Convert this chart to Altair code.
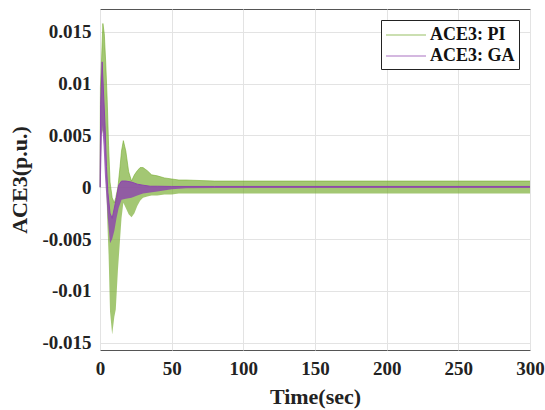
import altair as alt
import pandas as pd

# ---- data (envelopes of the oscillating responses) ----
pi_t = [0, 0.3, 1, 2, 3, 4, 5, 6, 7, 8.5, 10, 11, 12.5, 14, 15, 16.3, 18, 20, 22, 24,
        26, 28, 30, 33, 36, 40, 45, 50, 55, 60, 80, 100, 150, 200, 250, 300]
pi_upper = [0, 0.0097, 0.012, 0.0158, 0.0148, 0.012, 0.0085, 0.004, 0.0005, -0.001,
            -0.0015, -0.001, 0.0, 0.002, 0.0035, 0.0045, 0.0035, 0.0015, 0.0006, 0.0012,
            0.0016, 0.0019, 0.0019, 0.0016, 0.0012, 0.0011, 0.0009, 0.0008, 0.0007,
            0.0007, 0.0006, 0.0006, 0.0006, 0.0006, 0.0006, 0.0006]
pi_lower = [0, 0.0, 0.005, 0.0055, 0.005, 0.003, -0.003, -0.0065, -0.012, -0.0142,
            -0.0125, -0.0118, -0.008, -0.005, -0.003, -0.0015, -0.002, -0.0026, -0.0029,
            -0.0025, -0.0018, -0.0013, -0.001, -0.0009, -0.0008, -0.0008, -0.0007,
            -0.0007, -0.0006, -0.0006, -0.0006, -0.0006, -0.0006, -0.0006, -0.0006, -0.0006]

ga_t = [0, 0.5, 1.5, 2.5, 3.5, 4.5, 5.5, 7, 8.5, 10, 11.5, 13, 15, 18, 22, 26, 30, 35,
        40, 50, 60, 80, 300]
ga_upper = [0, 0.008, 0.0121, 0.009, 0.006, 0.002, -0.0005, -0.0025, -0.003, -0.002,
            -0.001, 0.0002, 0.0006, 0.0006, 0.0005, 0.0003, 0.0002, 0.0001, 0.0001,
            0.00008, 0.00008, 0.00008, 0.00008]
ga_lower = [0, 0.0, 0.006, 0.004, 0.001, -0.001, -0.003, -0.0054, -0.005, -0.0042,
            -0.003, -0.002, -0.0012, -0.0011, -0.001, -0.0008, -0.0006, -0.0005, -0.0004,
            -0.0002, -0.0001, -0.00008, -0.00008]

series_names = ["ACE3: PI", "ACE3: GA"]
series_colors = ["#77AC30", "#8E44AD"]
x_ticks = [0, 50, 100, 150, 200, 250, 300]
y_ticks = [-0.015, -0.01, -0.005, 0, 0.005, 0.01, 0.015]

pi_df = pd.DataFrame({"t": pi_t, "upper": pi_upper, "lower": pi_lower,
                      "series": series_names[0]})
ga_df = pd.DataFrame({"t": ga_t, "upper": ga_upper, "lower": ga_lower,
                      "series": series_names[1]})

FONT = "Liberation Serif"

x_enc = alt.X("t:Q", scale=alt.Scale(domain=[0, 300], nice=False),
              axis=alt.Axis(values=x_ticks, title="Time(sec)", format="d"))
y_enc = alt.Y("upper:Q", scale=alt.Scale(domain=[-0.0157, 0.0172], nice=False, zero=False),
              axis=alt.Axis(values=y_ticks, title="ACE3(p.u.)",
                            labelExpr="datum.value == 0 ? '0' : toString(round(datum.value*1000)/1000)"))
color_enc = alt.Color("series:N",
                      scale=alt.Scale(domain=series_names, range=series_colors),
                      legend=alt.Legend(title=None, orient="top-right", offset=11,
                                        symbolType="M-1,0H3", symbolSize=400,
                                        symbolStrokeWidth=1.2, symbolOpacity=0.75,
                                        strokeColor="#222", fillColor="white",
                                        padding=4, labelOffset=23, rowPadding=1,
                                        labelFont=FONT, labelFontSize=18,
                                        labelFontWeight="bold", labelColor="#111"))

pi_layer = alt.Chart(pi_df).mark_area(opacity=0.68, line={"strokeWidth": 0.6}).encode(
    x=x_enc, y=y_enc, y2="lower:Q", color=color_enc)
ga_layer = alt.Chart(ga_df).mark_area(opacity=0.82, line={"strokeWidth": 1}).encode(
    x=x_enc, y=y_enc, y2="lower:Q", color=color_enc)

chart = alt.layer(pi_layer, ga_layer).properties(
    width=430, height=341,
    background="white",
    autosize=alt.AutoSizeParams(type="none"),
    padding={"left": 100, "top": 9, "right": 15, "bottom": 60},
).configure_view(
    stroke="#555", strokeWidth=1
).configure_axis(
    labelFont=FONT, labelFontSize=19, labelFontWeight="bold", labelColor="#222",
    titleFont=FONT, titleFontSize=22, titleFontWeight="bold", titleColor="#222",
    grid=True, gridColor="#e3e3e3", gridWidth=1,
    tickSize=0, domain=False, labelPadding=9, labelFlush=False, labelOverlap=False
).configure_axisY(
    titlePadding=10
).configure_axisX(
    titlePadding=8
)

chart.save("out.html", embed_options={"renderer": "svg", "actions": False})
